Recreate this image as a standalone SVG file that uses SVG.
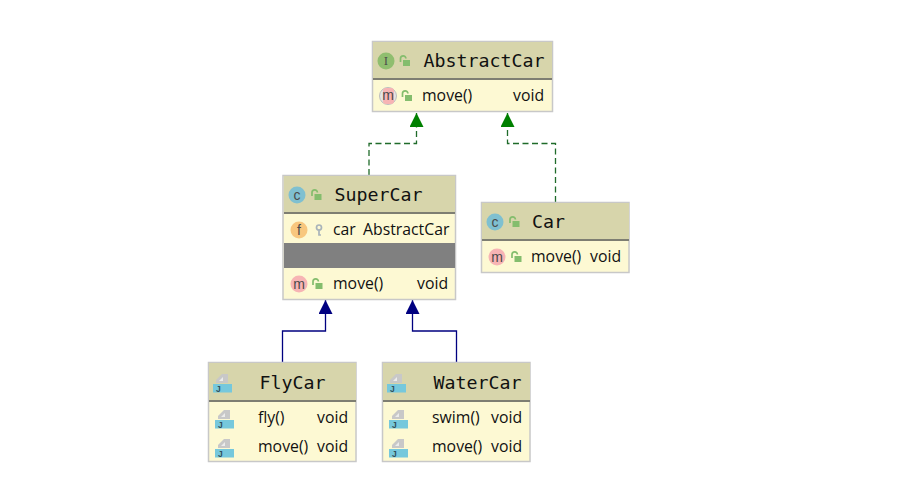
<svg xmlns="http://www.w3.org/2000/svg" width="919" height="498" viewBox="0 0 919 498">
<style>
.box{fill:#fdf9d3;stroke:#c8c8c8;stroke-width:1.5}
.head{fill:#d7d5ab}
.sep{fill:#7e7e72}
.title{font-family:"DejaVu Sans Mono","Liberation Mono",monospace;font-size:18.300px;fill:#111}
.t{font-family:"Open Sans","Noto Sans",sans-serif;font-size:15.800px;fill:#111}
.ic{font-family:"Liberation Sans",sans-serif;font-size:14px;fill:#4a4a4a;text-anchor:middle}
.dash{fill:none;stroke:#1f6b2a;stroke-width:1.3;stroke-dasharray:6 3.500}
.solid{fill:none;stroke:#000080;stroke-width:1.3}
</style>
<defs>
<g id="lock"><path d="M-4 1v-3.500a2.700 2.700 0 0 1 5.400 0" fill="none" stroke="#84bd6d" stroke-width="1.700"/><rect x="-1.500" y="-1" width="7" height="6" fill="#84bd6d"/></g>
<g id="j"><path d="M3 -1V-4L9 -10H15V-1z" fill="#c8c8c8"/><path d="M6 -3L10 -7V-3z" fill="#ececec"/><rect x="0" y="0" width="19" height="8.500" fill="#76c8dc"/><text x="3" y="7.500" font-family="'Liberation Sans',sans-serif" font-size="8.500" font-weight="bold" fill="#33505a">J</text></g>
<marker id="ag" markerUnits="userSpaceOnUse" markerWidth="15" markerHeight="15" refX="14" refY="7" orient="auto"><path d="M0 0L14 7L0 14z" fill="#008000"/></marker>
<marker id="ab" markerUnits="userSpaceOnUse" markerWidth="15" markerHeight="15" refX="14" refY="7" orient="auto"><path d="M0 0L14 7L0 14z" fill="#000080"/></marker>
</defs>
<rect width="919" height="498" fill="#fff"/>
<g id="connectors">
<path class="dash" d="M369 175V143.500H416.500V113" marker-end="url(#ag)"/>
<path class="dash" d="M555.500 202V143.500H507.500V113" marker-end="url(#ag)"/>
<path class="solid" d="M282.500 362V331H325.500V300" marker-end="url(#ab)"/>
<path class="solid" d="M456.500 362V331H412.500V300" marker-end="url(#ab)"/>
</g>
<g id="AbstractCar">
<rect class="box" x="372.500" y="41.500" width="180" height="70"/>
<rect class="head" x="373" y="42" width="179" height="36"/>
<rect class="sep" x="373" y="78" width="179" height="2"/>
<circle cx="386" cy="61" r="8.500" fill="#8fbe6f"/><text class="ic" x="386" y="65" style="font-size:11px;font-family:'DejaVu Serif',serif">I</text>
<use href="#lock" x="404.500" y="61"/>
<text class="title" x="423.500" y="66.500">AbstractCar</text>
<circle cx="388" cy="96" r="8.500" fill="#e4e4e4" stroke="#bdbdbd"/><rect x="383" y="88" width="11" height="16" rx="3" fill="#f7b4b4"/><text class="ic" x="388" y="100">m</text>
<use href="#lock" x="406.500" y="96"/>
<text class="t" x="422" y="101">move()</text>
<text class="t" x="513" y="101">void</text>
</g>
<g id="SuperCar">
<rect class="box" x="283" y="175.500" width="172.500" height="124"/>
<rect class="head" x="284" y="176" width="171" height="36"/>
<rect class="sep" x="284" y="212" width="171" height="2"/>
<rect x="284" y="243" width="171" height="25" fill="#808080"/>
<circle cx="297" cy="195" r="8.500" fill="#7fc0d0"/><text class="ic" x="297" y="199.500">c</text>
<use href="#lock" x="316" y="195"/>
<text class="title" x="334.500" y="200.500">SuperCar</text>
<circle cx="299" cy="230" r="8.500" fill="#f8c77e"/><text class="ic" x="299" y="235">f</text>
<g fill="none" stroke="#a9b4ba" stroke-width="1.700"><circle cx="319" cy="227.500" r="2.500"/><path d="M319 230v5h2"/></g>
<text class="t" x="333" y="235">car</text>
<text class="t" x="363" y="235">AbstractCar</text>
<circle cx="299" cy="284" r="8.500" fill="#f7b4b4"/><text class="ic" x="299" y="288.500">m</text>
<use href="#lock" x="317" y="284"/>
<text class="t" x="333" y="289">move()</text>
<text class="t" x="417" y="289">void</text>
</g>
<g id="Car">
<rect class="box" x="481.500" y="202.500" width="147.500" height="70"/>
<rect class="head" x="482" y="203" width="147" height="36"/>
<rect class="sep" x="482" y="239" width="147" height="2"/>
<circle cx="495" cy="222" r="8.500" fill="#7fc0d0"/><text class="ic" x="495" y="226.500">c</text>
<use href="#lock" x="514" y="222"/>
<text class="title" x="532" y="227.500">Car</text>
<circle cx="497" cy="257" r="8.500" fill="#f7b4b4"/><text class="ic" x="497" y="261.500">m</text>
<use href="#lock" x="516" y="257"/>
<text class="t" x="531" y="262">move()</text>
<text class="t" x="590" y="262">void</text>
</g>
<g id="FlyCar">
<rect class="box" x="208.500" y="362.500" width="147.500" height="99"/>
<rect class="head" x="209" y="363" width="147" height="37"/>
<rect class="sep" x="209" y="400" width="147" height="2"/>
<use href="#j" x="213" y="384"/>
<text class="title" x="259.500" y="389">FlyCar</text>
<use href="#j" x="215" y="420"/>
<text class="t" x="258" y="423">fly()</text>
<text class="t" x="317" y="423">void</text>
<use href="#j" x="215" y="449"/>
<text class="t" x="258" y="452">move()</text>
<text class="t" x="317" y="452">void</text>
</g>
<g id="WaterCar">
<rect class="box" x="382.500" y="362.500" width="147.500" height="99"/>
<rect class="head" x="383" y="363" width="147" height="37"/>
<rect class="sep" x="383" y="400" width="147" height="2"/>
<use href="#j" x="387" y="384"/>
<text class="title" x="433.500" y="389">WaterCar</text>
<use href="#j" x="389" y="420"/>
<text class="t" x="432" y="423">swim()</text>
<text class="t" x="491" y="423">void</text>
<use href="#j" x="389" y="449"/>
<text class="t" x="432" y="452">move()</text>
<text class="t" x="491" y="452">void</text>
</g>
</svg>
